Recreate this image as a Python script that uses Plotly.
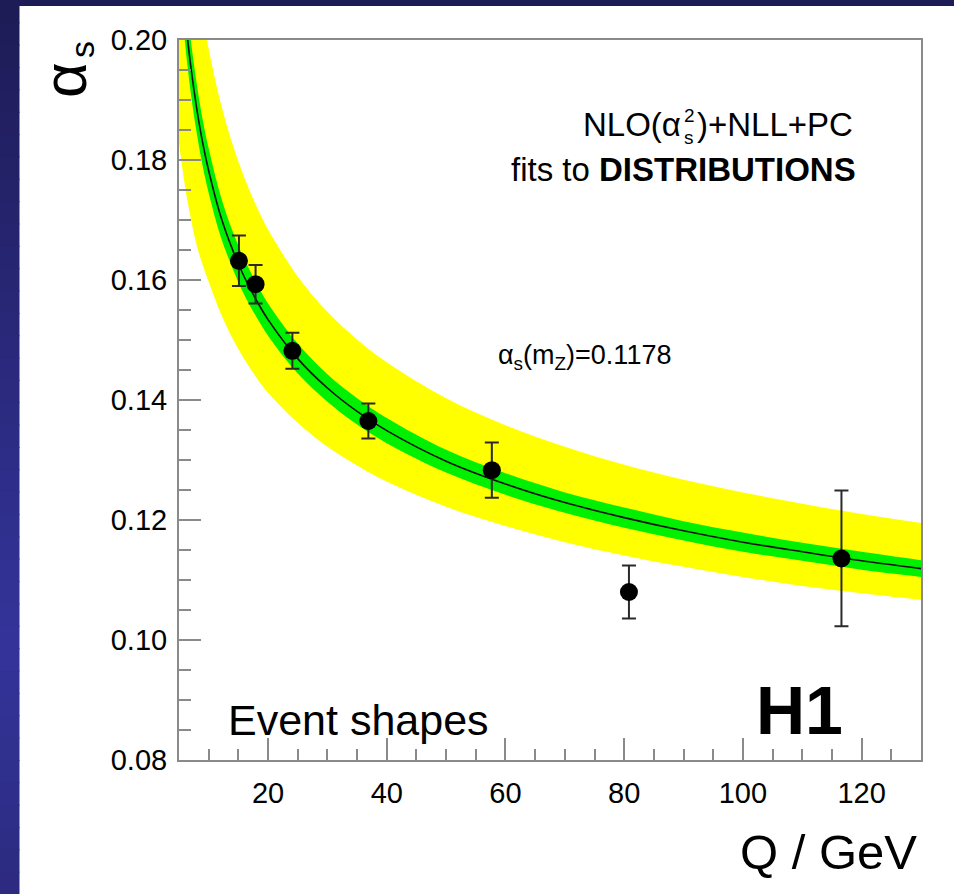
import plotly.graph_objects as go

# ---------------- data ----------------
Q_grid = [5, 6, 7, 8, 9, 10, 12, 14, 16, 18, 20, 25, 30, 35, 40, 50, 60, 70, 80, 90, 100, 110, 120, 130]
alpha_fit = [0.2180, 0.2045, 0.1955, 0.1885, 0.1828, 0.1782, 0.1707, 0.1651, 0.1605, 0.1567, 0.1534, 0.1469,
             0.1420, 0.1381, 0.1349, 0.1298, 0.1260, 0.1229, 0.1204, 0.1182, 0.1163, 0.1147, 0.1132, 0.1119]
exp_hi = [0.2235, 0.2093, 0.1999, 0.1926, 0.1867, 0.1819, 0.1741, 0.1682, 0.1635, 0.1595, 0.1561, 0.1494,
          0.1443, 0.1403, 0.1370, 0.1317, 0.1278, 0.1246, 0.1221, 0.1198, 0.1179, 0.1162, 0.1147, 0.1133]
exp_lo = [0.2125, 0.1997, 0.1911, 0.1844, 0.1789, 0.1745, 0.1673, 0.1620, 0.1575, 0.1539, 0.1507, 0.1444,
          0.1397, 0.1359, 0.1328, 0.1279, 0.1242, 0.1212, 0.1187, 0.1166, 0.1147, 0.1132, 0.1117, 0.1105]
tot_hi = [0.2418, 0.2287, 0.2187, 0.2107, 0.2041, 0.1985, 0.1896, 0.1827, 0.1771, 0.1724, 0.1684, 0.1606,
          0.1547, 0.1501, 0.1463, 0.1403, 0.1358, 0.1322, 0.1292, 0.1267, 0.1246, 0.1227, 0.1210, 0.1195]
tot_lo = [0.1828, 0.1757, 0.1702, 0.1657, 0.1625, 0.1597, 0.1545, 0.1503, 0.1468, 0.1438, 0.1412, 0.1362,
          0.1322, 0.1291, 0.1264, 0.1222, 0.1190, 0.1163, 0.1141, 0.1122, 0.1105, 0.1090, 0.1078, 0.1067]

Q_data = [15.1, 17.9, 24.1, 36.9, 57.7, 80.8, 116.6]
alpha_data = [0.1632, 0.1593, 0.1482, 0.1365, 0.1283, 0.1080, 0.1136]
alpha_err = [0.0042, 0.0032, 0.0030, 0.0029, 0.0046, 0.0044, 0.0113]

x_ticks = [20, 40, 60, 80, 100, 120]
y_ticks = [0.08, 0.10, 0.12, 0.14, 0.16, 0.18, 0.20]

# ---------------- layout geometry ----------------
W, H = 954, 894
L, R, T, B = 179, 921, 40, 760


def xp(px):
    return (px - L) / (R - L)


def yp(py):
    return (B - py) / (B - T)


FONT = "Liberation Sans, Arial, Helvetica, sans-serif"

fig = go.Figure()

fig.add_trace(go.Scatter(x=Q_grid, y=tot_lo, mode="lines", line=dict(width=0, shape="spline"),
                         hoverinfo="skip", showlegend=False))
fig.add_trace(go.Scatter(x=Q_grid, y=tot_hi, mode="lines", line=dict(width=0, shape="spline"),
                         fill="tonexty", fillcolor="#ffff00", hoverinfo="skip", showlegend=False))
fig.add_trace(go.Scatter(x=Q_grid, y=exp_lo, mode="lines", line=dict(width=0, shape="spline"),
                         hoverinfo="skip", showlegend=False))
fig.add_trace(go.Scatter(x=Q_grid, y=exp_hi, mode="lines", line=dict(width=0, shape="spline"),
                         fill="tonexty", fillcolor="#00f000", hoverinfo="skip", showlegend=False))
fig.add_trace(go.Scatter(x=Q_grid, y=alpha_fit, mode="lines", line=dict(width=1.6, color="#101010", shape="spline"),
                         showlegend=False))
fig.add_trace(go.Scatter(x=Q_data, y=alpha_data, mode="markers",
                         marker=dict(size=18, color="black"),
                         error_y=dict(type="data", array=alpha_err, visible=True, color="#2a2a2a",
                                      thickness=2, width=7),
                         showlegend=False))

# ---------------- background (blue border + white panel) ----------------
shapes = []
n = 40
for i in range(n):
    y0 = H * i / n
    y1 = H * (i + 1) / n + 1
    t = (i + 0.5) / n
    if t < 0.72:
        f = t / 0.72
        c = (int(30 + 22 * f), int(28 + 24 * f), int(86 + 69 * f))
    else:
        f = (t - 0.72) / 0.28
        c = (int(52 - 8 * f), int(52 - 9 * f), int(155 - 27 * f))
    shapes.append(dict(type="rect", xref="paper", yref="paper", x0=xp(0), x1=xp(19.5),
                       y0=yp(y1), y1=yp(y0), line=dict(width=0), fillcolor="rgb(%d,%d,%d)" % c, layer="below"))
shapes.append(dict(type="rect", xref="paper", yref="paper", x0=xp(0), x1=xp(W),
                   y0=yp(6), y1=yp(0), line=dict(width=0), fillcolor="rgb(30,28,86)", layer="below"))

fig.update_layout(shapes=shapes)

# ---------------- annotations ----------------
ann = []
ann.append(dict(text="NLO(α", x=xp(683), y=yp(124), xanchor="right", yanchor="middle",
                font=dict(size=33, family=FONT, color="black")))
ann.append(dict(text="s", x=xp(689), y=yp(138), xanchor="center", yanchor="middle",
                font=dict(size=19, family=FONT, color="black")))
ann.append(dict(text="2", x=xp(689), y=yp(116), xanchor="center", yanchor="middle",
                font=dict(size=19, family=FONT, color="black")))
ann.append(dict(text=")+NLL+PC", x=xp(695), y=yp(124), xanchor="left", yanchor="middle",
                font=dict(size=33, family=FONT, color="black")))
ann.append(dict(text="fits to <b>DISTRIBUTIONS</b>", x=xp(858), y=yp(169), xanchor="right", yanchor="middle",
                font=dict(size=33, family=FONT, color="black")))
ann.append(dict(text="α<sub>s</sub>(m<sub>Z</sub>)=0.1178", x=xp(496), y=yp(357), xanchor="left", yanchor="middle",
                font=dict(size=27, family=FONT, color="black")))
ann.append(dict(text="Event shapes", x=xp(226), y=yp(720), xanchor="left", yanchor="middle",
                font=dict(size=43, family=FONT, color="black")))
ann.append(dict(text="<b>H1</b>", x=xp(799), y=yp(710), xanchor="center", yanchor="middle",
                font=dict(size=68, family=FONT, color="black")))
ann.append(dict(text="Q / GeV", x=xp(919), y=yp(852), xanchor="right", yanchor="middle",
                font=dict(size=49, family=FONT, color="black")))
ann.append(dict(text="α", x=xp(64), y=yp(80), xanchor="center", yanchor="middle", textangle=-90,
                font=dict(size=62, family=FONT, color="black")))
ann.append(dict(text="s", x=xp(82), y=yp(50), xanchor="center", yanchor="middle", textangle=-90,
                font=dict(size=34, family=FONT, color="black")))
for a in ann:
    a.update(xref="paper", yref="paper", showarrow=False)
fig.update_layout(annotations=ann)

axis_common = dict(showgrid=False, zeroline=False, showline=True, linecolor="#8a8a8a", linewidth=2,
                   mirror=True, ticks="inside", tickcolor="#8a8a8a", tickwidth=2, ticklen=22,
                   tickfont=dict(size=29, family=FONT, color="black"))

fig.update_xaxes(range=[5, 130], tickvals=x_ticks, ticktext=[str(v) for v in x_ticks],
                 minor=dict(ticks="inside", dtick=5, tick0=0, ticklen=11, tickcolor="#8a8a8a", tickwidth=1.5),
                 ticklabelstandoff=6, **axis_common)
fig.update_yaxes(range=[0.08, 0.20], tickvals=y_ticks, ticktext=["%.2f" % v for v in y_ticks],
                 minor=dict(ticks="inside", dtick=0.005, tick0=0, ticklen=12, tickcolor="#8a8a8a", tickwidth=1.5),
                 ticklabelstandoff=4, **axis_common)

fig.update_layout(width=W, height=H, margin=dict(l=L, r=W - R, t=T, b=H - B),
                  paper_bgcolor="white", plot_bgcolor="white", showlegend=False,
                  font=dict(family=FONT))

fig.write_html("out.html")
